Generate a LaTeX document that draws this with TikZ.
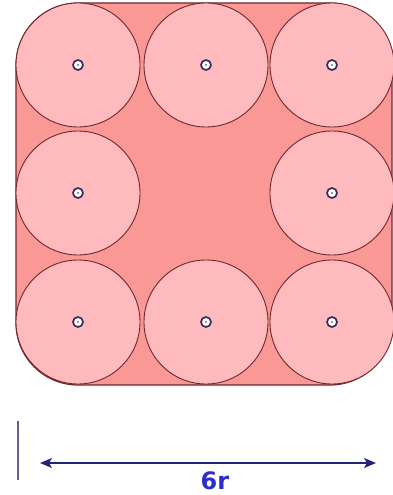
\documentclass[tikz,border=0pt]{standalone}
\usepackage{fontspec}
\newfontfamily\lblfont{DejaVu Sans}
\usetikzlibrary{arrows.meta}
\definecolor{sqfill}{RGB}{250,152,150}
\definecolor{cfill}{RGB}{255,186,190}
\definecolor{edge}{RGB}{110,40,45}
\definecolor{dotc}{RGB}{55,45,95}
\definecolor{arrowc}{RGB}{35,35,120}
\definecolor{barc}{RGB}{95,95,155}
\definecolor{lblc}{RGB}{45,45,205}
\tikzset{
  disc/.style={circle, draw=edge, line width=0.9pt, fill=cfill, minimum size=124pt, inner sep=0pt},
  hub/.style={circle, draw=dotc, line width=1.7pt, fill=white, minimum size=10pt, inner sep=0pt},
  pin/.style={circle, fill=dotc, minimum size=1.8pt, inner sep=0pt},
  dimarrow/.style={draw=arrowc, line width=1.4pt, {Stealth[length=12pt,width=10pt,inset=3pt]}-{Stealth[length=12pt,width=10pt,inset=3pt]}},
}
\begin{document}
\begin{tikzpicture}[x=1pt,y=-1pt]
\useasboundingbox (0,0) rectangle (393,495);
\draw[edge, line width=1.2pt, fill=sqfill, rounded corners=62pt] (16,3) rectangle (392,385);
\foreach \n/\x/\y in {a/78/65, b/206/65, c/332/65, d/78/193, e/332/193, f/78/322, g/206/322, h/332/322}{
  \node[disc] (\n) at (\x,\y) {};
  \node[hub] (\n h) at (\n) {};
  \node[pin] at (\n) {};
}
\coordinate (bt) at (18,421);
\coordinate (bb) at (18,480);
\draw[barc, line width=1.6pt] (bt) -- (bb);
\coordinate (al) at (40,463);
\coordinate (ar) at (376,463);
\draw[dimarrow] (al) -- (ar);
\node[text=lblc, font=\lblfont\bfseries\fontsize{24}{24}\selectfont, inner sep=0pt] (lbl) at (215,481) {6r};
\end{tikzpicture}
\end{document}
